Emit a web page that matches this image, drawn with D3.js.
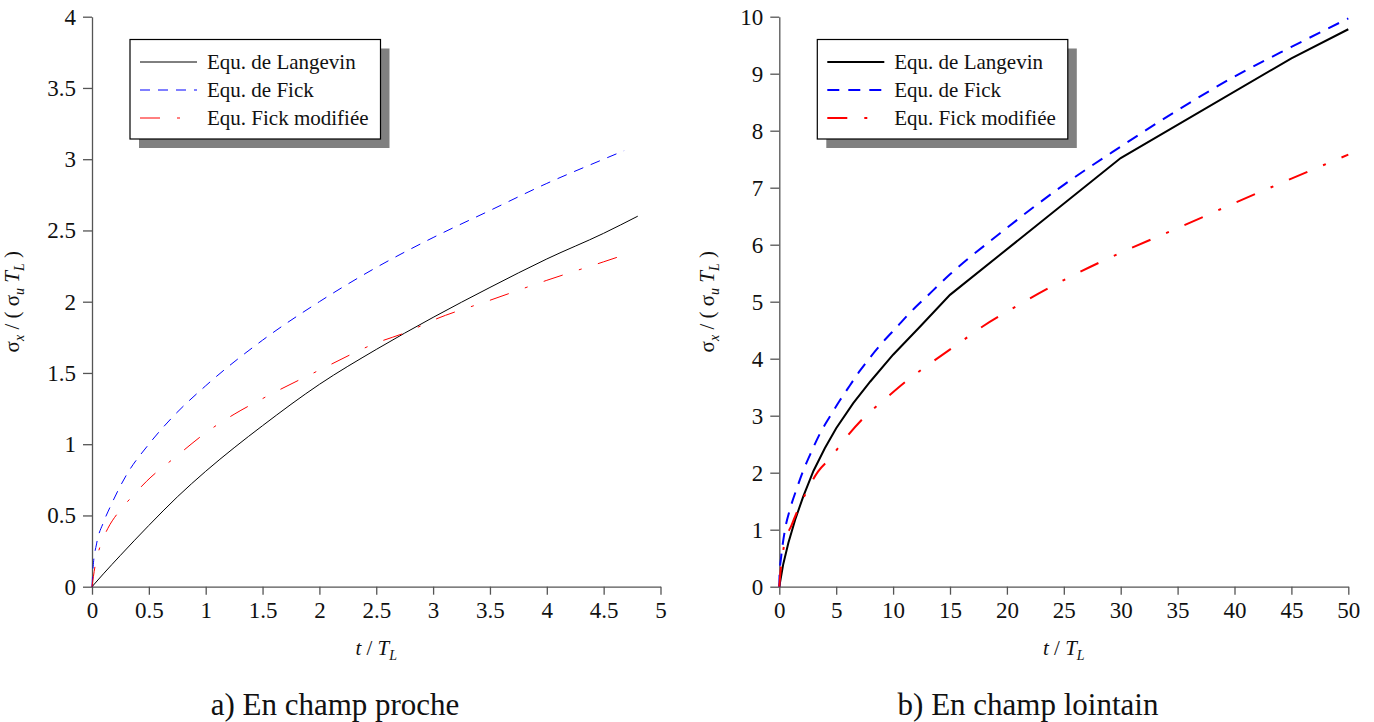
<!DOCTYPE html>
<html><head><meta charset="utf-8">
<script src="https://cdn.jsdelivr.net/npm/d3@7"></script>
<style>
body{margin:0;background:#fff}
text{font-family:"Liberation Serif","Times New Roman",Times,serif;fill:#111}
</style>
</head><body>
<svg id="c" width="1374" height="722"></svg>
<script>
// ---------- data ----------
const seriesNames = ["Equ. de Langevin", "Equ. de Fick", "Equ. Fick modifiée"];
const captions = ["a) En champ proche", "b) En champ lointain"];

// a) near field
const nearXTicks = [0, 0.5, 1, 1.5, 2, 2.5, 3, 3.5, 4, 4.5, 5];
const nearYTicks = [0, 0.5, 1, 1.5, 2, 2.5, 3, 3.5, 4];
const nearLangT = [0, 0.1, 0.25, 0.5, 0.75, 1, 1.25, 1.5, 2, 2.5, 3, 3.5, 4, 4.5, 4.8];
const nearLangY = [0, 0.09, 0.22, 0.43, 0.63, 0.81, 0.975, 1.13, 1.42, 1.665, 1.89, 2.1, 2.3, 2.48, 2.6];
const nearFickT = [0, 0.01, 0.04, 0.1, 0.16, 0.3, 0.5, 0.72, 1, 1.5, 2, 2.5, 3, 3.5, 4, 4.5, 4.68];
const nearFickY = [0, 0.14, 0.3, 0.45, 0.56, 0.78, 1.0, 1.2, 1.41, 1.73, 2.0, 2.24, 2.45, 2.64, 2.83, 3.0, 3.06];
const nearModT = [0, 0.026, 0.07, 0.14, 0.23, 0.35, 0.48, 0.75, 1, 1.25, 1.5, 2, 2.5, 2.78, 3, 3.5, 4, 4.5, 4.65];
const nearModY = [0, 0.14, 0.28, 0.41, 0.52, 0.63, 0.74, 0.92, 1.08, 1.21, 1.32, 1.52, 1.71, 1.79, 1.87, 2.01, 2.15, 2.28, 2.32];

// b) far field
const farXTicks = [0, 5, 10, 15, 20, 25, 30, 35, 40, 45, 50];
const farYTicks = [0, 1, 2, 3, 4, 5, 6, 7, 8, 9, 10];
const farLangT = [0, 0.35, 0.8, 1.4, 2.1, 3, 4, 5, 6.5, 8, 10, 12.4, 15, 30, 45, 50];
const farLangY = [0, 0.4, 0.77, 1.18, 1.58, 2.03, 2.43, 2.78, 3.22, 3.6, 4.07, 4.57, 5.12, 7.52, 9.27, 9.78];
const farFickT = [0, 0.03, 0.15, 0.5, 0.94, 1.53, 2.11, 2.85, 3.58, 4.46, 5.33, 6.2, 7.09, 7.97, 9.14, 10.3, 11.5, 12.95, 15, 19.4, 25, 30, 35, 40, 45, 50];
const farFickY = [0, 0.25, 0.5, 1.0, 1.36, 1.72, 2.04, 2.38, 2.69, 2.99, 3.27, 3.53, 3.79, 4.02, 4.3, 4.55, 4.81, 5.09, 5.48, 6.2, 7.05, 7.72, 8.36, 8.95, 9.47, 9.97];
const farModT = [0, 0.15, 0.41, 1.1, 2.4, 3.4, 4.5, 5.6, 7.4, 9.4, 11.5, 13.5, 16.2, 17.9, 20.3, 25, 30, 35, 40, 45, 50];
const farModY = [0, 0.36, 0.71, 1.09, 1.67, 2.02, 2.26, 2.55, 2.96, 3.31, 3.66, 3.95, 4.33, 4.57, 4.86, 5.38, 5.86, 6.29, 6.73, 7.16, 7.58];

// ---------- drawing ----------
const svg = d3.select("#c");
const zip = (xs, ys) => xs.map((x, i) => [x, ys[i]]);

function panel(cfg) {
  const g = svg.append("g");
  const x = d3.scaleLinear().domain(cfg.xDomain).range([cfg.left, cfg.right]);
  const y = d3.scaleLinear().domain(cfg.yDomain).range([cfg.bottom, cfg.top]);

  const xAxis = g.append("g").attr("transform", `translate(0,${cfg.bottom})`)
    .call(d3.axisBottom(x).tickValues(cfg.xTicks).tickSize(8).tickSizeOuter(0).tickPadding(7).tickFormat(d3.format("")));
  const yAxis = g.append("g").attr("transform", `translate(${cfg.left},0)`)
    .call(d3.axisLeft(y).tickValues(cfg.yTicks).tickSize(9).tickSizeOuter(0).tickPadding(7).tickFormat(d3.format("")));
  [xAxis, yAxis].forEach(a => {
    a.attr("font-size", 23).attr("font-family", "Liberation Serif, serif");
    a.selectAll("path,line").attr("stroke", "#555").attr("stroke-width", 1.3);
    a.selectAll("text").attr("font-size", 23).attr("fill", "#111");
  });

  const styles = [
    {color: "#000", dash: null},
    {color: "#0000ff", dash: cfg.fickDash},
    {color: "#ff0000", dash: "20,17,3,17"}
  ];
  cfg.series.forEach((s, i) => {
    const line = d3.line().x(d => x(d[0])).y(d => y(d[1]))
      .curve(cfg.curves[i]);
    g.append("path").datum(zip(s[0], s[1]))
      .attr("d", line).attr("fill", "none")
      .attr("stroke", styles[i].color).attr("stroke-width", cfg.lw)
      .attr("stroke-dasharray", styles[i].dash);
  });

  // x title
  const cx = (cfg.left + cfg.right) / 2;
  const xt = g.append("text").attr("x", cx).attr("y", 655).attr("text-anchor", "middle").attr("font-size", 21);
  xt.append("tspan").attr("font-style", "italic").text("t");
  xt.append("tspan").text(" / ");
  xt.append("tspan").attr("font-style", "italic").text("T");
  xt.append("tspan").attr("font-style", "italic").attr("font-size", 14).attr("dy", 5).text("L");

  // y title
  const cy = (cfg.top + cfg.bottom) / 2;
  const yt = g.append("text").attr("transform", `translate(${cfg.ytx},${cy}) rotate(-90)`)
    .attr("text-anchor", "middle").attr("font-size", 21);
  yt.append("tspan").text("σ");
  yt.append("tspan").attr("font-style", "italic").attr("font-size", 14).attr("dy", 5).text("x");
  yt.append("tspan").attr("dy", -5).text(" / ( σ");
  yt.append("tspan").attr("font-style", "italic").attr("font-size", 14).attr("dy", 5).text("u");
  yt.append("tspan").attr("dy", -5).attr("font-style", "italic").text(" T");
  yt.append("tspan").attr("font-style", "italic").attr("font-size", 14).attr("dy", 5).text("L");
  yt.append("tspan").attr("dy", -5).text(" )");

  // legend
  const lx = cfg.legX, ly = 39.5, lw = 250.5, lh = 99.5;
  g.append("rect").attr("x", lx + 9).attr("y", ly + 9).attr("width", lw).attr("height", lh).attr("fill", "#808080");
  g.append("rect").attr("x", lx).attr("y", ly).attr("width", lw).attr("height", lh)
    .attr("fill", "#fff").attr("stroke", "#000").attr("stroke-width", 1.2);
  seriesNames.forEach((name, i) => {
    const ry = 62 + i * 28;
    g.append("line").attr("x1", lx + 10).attr("x2", lx + 67).attr("y1", ry).attr("y2", ry)
      .attr("stroke", styles[i].color).attr("stroke-width", cfg.lw)
      .attr("stroke-dasharray", styles[i].dash);
    g.append("text").attr("x", lx + 77).attr("y", ry + 7).attr("font-size", 21).text(name);
  });

  // caption
  g.append("text").attr("x", cfg.capX).attr("y", 715).attr("text-anchor", "middle")
    .attr("font-size", 31).text(cfg.caption);
}

panel({
  left: 92, right: 660.5, top: 16.7, bottom: 586.7,
  xDomain: [0, 5], yDomain: [0, 4], xTicks: nearXTicks, yTicks: nearYTicks,
  series: [[nearLangT, nearLangY], [nearFickT, nearFickY], [nearModT, nearModY]],
  curves: [d3.curveMonotoneX, d3.curveMonotoneX, d3.curveMonotoneX],
  lw: 1, fickDash: "10,8", ytx: 19, legX: 130, capX: 335, caption: captions[0]
});
panel({
  left: 779.3, right: 1348.3, top: 16.7, bottom: 586.7,
  xDomain: [0, 50], yDomain: [0, 10], xTicks: farXTicks, yTicks: farYTicks,
  series: [[farLangT, farLangY], [farFickT, farFickY], [farModT, farModY]],
  curves: [d3.curveLinear, d3.curveMonotoneX, d3.curveMonotoneX],
  lw: 2, fickDash: "12,9", ytx: 714, legX: 817.3, capX: 1028, caption: captions[1]
});
</script>
</body></html>
